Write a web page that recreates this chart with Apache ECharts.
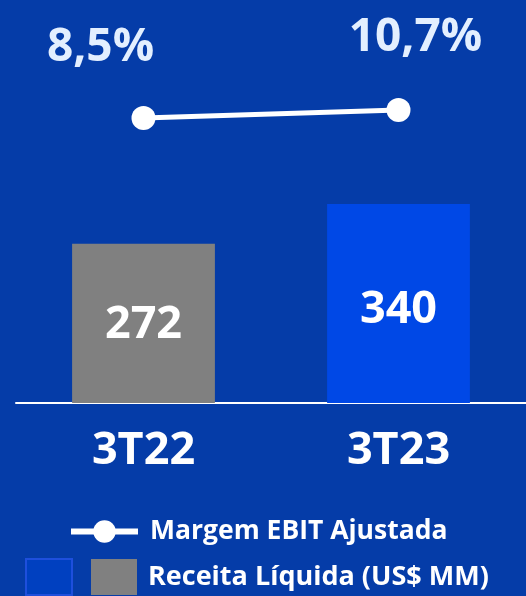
<!DOCTYPE html>
<html><head><meta charset="utf-8">
<script src="https://cdn.jsdelivr.net/npm/echarts@6/dist/echarts.min.js"></script>
<style>html,body{margin:0;padding:0;background:#053ca8;}#c{width:526px;height:596px;}</style>
</head><body><div id="c"></div>
<script>
const categories = ['3T22', '3T23'];
const revenueGray = [272, '-'];
const revenueBlue = ['-', 340];
const margin = [8.5, 10.7];
const marginLabels = ['8,5%', '10,7%'];
const lineName = 'Margem EBIT Ajustada';
const barName = 'Receita Líquida (US$ MM)';
const barNameBlue = 'Receita Líquida (US$ MM) ';

const FONT = '"Open Sans", "Noto Sans", sans-serif';
const chart = echarts.init(document.getElementById('c'));
chart.setOption({
  backgroundColor: '#053ca8',
  animation: false,
  grid: { left: 16, right: -3, top: 5, bottom: 193, containLabel: false },
  xAxis: {
    type: 'category', data: categories,
    axisLine: { lineStyle: { color: '#ffffff', width: 2 } },
    axisTick: { show: false },
    axisLabel: { color: '#ffffff', fontSize: 45, fontWeight: 'bold', fontFamily: FONT, margin: 26 }
  },
  yAxis: [
    { type: 'value', min: 0, max: 680, show: false, splitLine: { show: false } },
    { type: 'value', min: -70, max: 39.6, show: false, splitLine: { show: false } }
  ],
  legend: [
    {
      data: [{ name: lineName, lineStyle: { width: 6, color: '#ffffff' } }],
      left: 63, top: 513, itemWidth: 67, itemHeight: 28,
      textStyle: { color: '#ffffff', fontSize: 26.5, fontWeight: 'bold', fontFamily: FONT, padding: [0, 0, 0, 7] }
    },
    {
      data: [
        { name: barNameBlue, icon: 'rect', itemStyle: { color: '#0040c0', borderColor: '#1e4fdc', borderWidth: 2 } },
        { name: barName, icon: 'rect' }
      ],
      left: 20, top: 553, itemWidth: 46, itemHeight: 36, itemGap: 18,
      formatter: function (n) { return n === barNameBlue ? '' : n; },
      textStyle: { color: '#ffffff', fontSize: 27, fontWeight: 'bold', fontFamily: FONT, padding: [0, 0, 0, 6] }
    }
  ],
  series: [
    {
      name: barName, type: 'bar', stack: 'rev', data: revenueGray, barWidth: '56%',
      itemStyle: { color: '#808080' },
      label: { show: true, position: 'inside', color: '#ffffff', fontSize: 45, fontWeight: 'bold', fontFamily: FONT, offset: [0, 2] }
    },
    {
      name: barNameBlue, type: 'bar', stack: 'rev', data: revenueBlue, barWidth: '56%',
      itemStyle: { color: '#0048e6' },
      label: { show: true, position: 'inside', color: '#ffffff', fontSize: 45, fontWeight: 'bold', fontFamily: FONT, offset: [0, 7] }
    },
    {
      name: lineName, type: 'line', yAxisIndex: 1,
      data: [
        { value: margin[0], label: { offset: [-43, -30] } },
        { value: margin[1], label: { offset: [17, -32] } }
      ],
      symbol: 'circle', symbolSize: 24,
      lineStyle: { color: '#ffffff', width: 5 },
      itemStyle: { color: '#ffffff' },
      label: {
        show: true, position: 'top',
        formatter: function (p) { return marginLabels[p.dataIndex]; },
        color: '#e3efff', fontSize: 46, fontWeight: 'bold', fontFamily: FONT
      }
    }
  ]
});
</script></body></html>
